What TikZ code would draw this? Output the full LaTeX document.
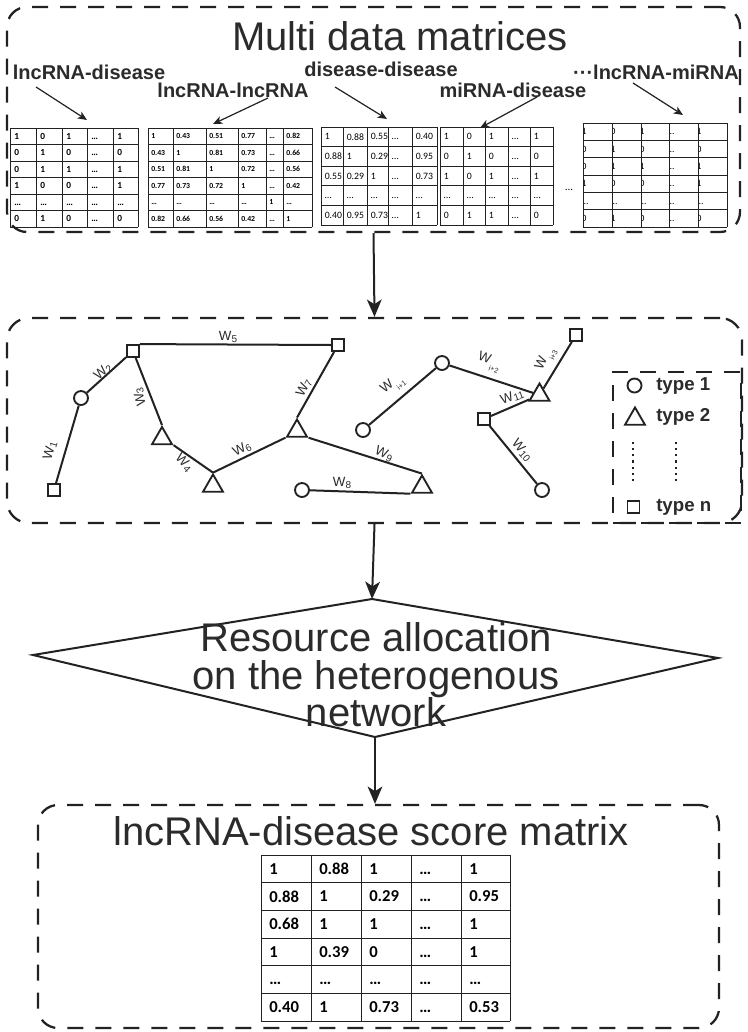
\documentclass[tikz,border=0pt]{standalone}
\usepackage{fontspec}
\setmainfont{Liberation Sans}
\newfontfamily\calf{Carlito}
\usetikzlibrary{arrows.meta,shapes.geometric,fit}
\definecolor{ink}{HTML}{222222}
\definecolor{txt}{HTML}{2B2B2B}
\tikzset{
 panel/.style={draw=ink, line width=1.7pt, dash pattern=on 12pt off 9pt, rounded corners=15pt, inner sep=0pt},
 legbox/.style={draw=ink, line width=1.5pt, dash pattern=on 12pt off 9pt, inner sep=0pt},
 bigarrow/.style={draw=ink, line width=1.5pt, -{Stealth[length=13pt,width=11pt,inset=3.5pt]}},
 larrow/.style={draw=ink, line width=0.9pt, -{Stealth[length=7pt,width=6pt,inset=2pt]}},
 edge/.style={draw=ink, line width=1.5pt},
 sqn/.style={draw=ink, rectangle, line width=1.4pt, minimum size=9pt, inner sep=0pt, fill=white},
 cirn/.style={draw=ink, circle, line width=1.4pt, minimum size=10.5pt, inner sep=0pt, fill=white},
 trin/.style={draw=ink, regular polygon, regular polygon sides=3, line width=1.4pt, minimum size=17.3pt, inner sep=0pt, fill=white},
 wlab/.style={text=txt, font=\fontsize{10}{11}\selectfont, inner sep=0pt},
 mlab/.style={text=txt, font=\bfseries\fontsize{15}{16}\selectfont, inner sep=0pt},
 gridln/.style={draw=ink, line width=0.6pt},
 cell/.style={inner sep=0pt, anchor=west, text=black},
 bigtxt/.style={text=txt, font=\fontsize{30}{28}\selectfont, inner sep=0pt, align=center},
 legtxt/.style={text=txt, font=\bfseries\fontsize{14}{15}\selectfont, inner sep=0pt, anchor=west},
}
\newcommand\Wsub[1]{W\kern0.2pt\raisebox{-0.12em}{\fontsize{7.5}{8}\selectfont #1}}
\newcommand\Wsubi[1]{W\kern0.8pt\raisebox{-0.5em}{\fontsize{5.5}{6}\selectfont #1}}
\def\matpad{4}
% #1 prefix, #2 xlist, #3 top, #4 row height, #5 font, #6 entries
\newcommand\mkmat[6]{%
 \foreach \row [count=\i] in {#6} {
   \foreach \e [count=\j] in \row {
     \pgfmathsetmacro\xc{{#2}[\j-1]+\matpad}
     \pgfmathsetmacro\yc{#3+(\i-0.5)*#4}
     \node[cell, font={#5}] (#1-\i-\j) at (\xc,\yc) {\vphantom{0}\e};
   }
 }%
}
% #1 xlist, #2 xl, #3 xr, #4 top, #5 rowh, #6 nrows
\newcommand\mkgrid[6]{%
  \foreach \xx in {#1} \draw[gridln] (\xx,#4) -- (\xx,{#4+#6*#5});
  \foreach \k in {0,...,#6} \draw[gridln] (#2,{#4+\k*#5}) -- (#3,{#4+\k*#5});
}
\begin{document}
\begin{tikzpicture}[x=0.75pt,y=-0.75pt]
\useasboundingbox (0,0) rectangle (748,1032);
\fill[white] (0,0) rectangle (748,1032);

% ---------- panel 1 ----------
\node[panel, fit={(7,7) (740,232)}] (p1) {};
\node[bigtxt] (t1) at (400,36) {Multi data matrices};
\node[mlab] (l1) at (89,72) {lncRNA-disease};
\node[mlab] (l2) at (233,90) {lncRNA-lncRNA};
\node[mlab] (l3) at (381,69) {disease-disease};
\node[mlab] (l4) at (513,90) {miRNA-disease};
\node[mlab] (l5) at (656,72) {···lncRNA-miRNA};
\coordinate (a1s) at (36,87);  \coordinate (a1e) at (87,120);
\coordinate (a2s) at (268,98); \coordinate (a2e) at (213,124);
\coordinate (a3s) at (335,87); \coordinate (a3e) at (387,119);
\coordinate (a4s) at (537,97); \coordinate (a4e) at (480,128);
\coordinate (a5s) at (633,83); \coordinate (a5e) at (683,115);
\draw[larrow] (a1s) -- (a1e);
\draw[larrow] (a2s) -- (a2e);
\draw[larrow] (a3s) -- (a3e);
\draw[larrow] (a4s) -- (a4e);
\draw[larrow] (a5s) -- (a5e);

% matrix 1
\def\matpad{4}
\mkmat{ma}{10,36,62,87,113,138}{128}{16.5}{\calf\bfseries\fontsize{7}{8}\selectfont}%
 {{1,0,1,…,1},{0,1,0,…,0},{0,1,1,…,1},{1,0,0,…,1},{…,…,…,…,…},{0,1,0,…,0}}
\mkgrid{10,36,62,87,113,138}{10}{138}{128}{16.5}{6}
% matrix 2
\def\matpad{3}
\mkmat{mb}{148,173,206,238,266,283,312}{128}{16.5}{\calf\bfseries\fontsize{5.8}{6}\selectfont}%
 {{1,0.43,0.51,0.77,…,0.82},{0.43,1,0.81,0.73,…,0.66},{0.51,0.81,1,0.72,…,0.56},{0.77,0.73,0.72,1,…,0.42},{…,…,…,…,1,…},{0.82,0.66,0.56,0.42,…,1}}
\mkgrid{148,173,206,238,266,283,312}{148}{312}{128}{16.5}{6}
% matrix 3
\def\matpad{3.5}
\mkmat{mc}{321,343,367,388,412,437}{127}{19.6}{\calf\fontsize{7.3}{8}\selectfont}%
 {{1,0.88,0.55,…,0.40},{0.88,1,0.29,…,0.95},{0.55,0.29,1,…,0.73},{…,…,…,…,…},{0.40,0.95,0.73,…,1}}
\mkgrid{321,343,367,388,412,437}{321}{437}{127}{19.6}{5}
% matrix 4
\mkmat{md}{440,463,485,508,530,553}{127}{19.6}{\calf\fontsize{7.3}{8}\selectfont}%
 {{1,0,1,…,1},{0,1,0,…,0},{1,0,1,…,1},{…,…,…,…,…},{0,1,1,…,0}}
\mkgrid{440,463,485,508,530,553}{440}{553}{127}{19.6}{5}
\node[font=\calf\fontsize{8}{8}\selectfont, inner sep=0pt] (gapdots) at (569,190) {…};
% matrix 5 (glyphs clipped at the left)
\def\matpad{-1.6}
\mkmat{me}{583,612,641,669,698,727}{123}{17.33}{\calf\fontsize{7.2}{8}\selectfont}%
 {{1,0,1,…,1},{0,1,0,…,0},{0,1,1,…,1},{1,0,0,…,1},{…,…,…,…,…},{0,1,0,…,0}}
\foreach \xx in {583,612,641,669,698} \fill[white] ({\xx-2.4},122) rectangle (\xx,228);
\mkgrid{583,612,641,669,698,727}{583}{727}{123}{17.33}{6}

% ---------- panel 2 ----------
\node[panel, rounded corners=16.5pt, fit={(7,318) (742,523)}] (p2) {};
\node[legbox, fit={(613,372) (741,523)}] (leg) {};
\draw[bigarrow] (p1.south) -- (p2.north);

\node[sqn]  (sq1) at (54,490) {};
\node[cirn] (c1)  at (81,398) {};
\node[sqn]  (sq2) at (133,351) {};
\node[sqn]  (sq3) at (338,345) {};
\node[trin] (tr1) at (162,438.5) {};
\node[trin] (tr2) at (213,486) {};
\node[trin] (tr3) at (297,431) {};
\node[cirn] (c2)  at (302,490) {};
\node[trin] (tr4) at (422,487) {};
\node[cirn] (c3)  at (363,430) {};
\node[cirn] (c4)  at (442,363) {};
\node[trin] (tr5) at (539.5,395) {};
\node[sqn]  (sq4) at (576,335) {};
\node[sqn]  (sq5) at (484,419) {};
\node[cirn] (c5)  at (542,490) {};

\draw[edge] (sq1) -- (c1);
\draw[edge] (c1) -- (sq2);
\draw[edge] (sq2) -- (tr1.corner 1);
\draw[edge] (sq2.north east) -- (sq3.west);
\draw[edge] (tr1.corner 3) -- (tr2.corner 1);
\draw[edge] (tr2.corner 1) -- (tr3.corner 2);
\draw[edge] (tr3.corner 1) -- (sq3);
\draw[edge] (tr3.corner 3) -- (tr4.corner 1);
\draw[edge] (c2) -- (tr4.corner 2);
\draw[edge] (c3) -- (c4);
\draw[edge] (c4) -- (tr5);
\draw[edge] (tr5) -- (sq4);
\draw[edge] (sq5) -- (tr5);
\draw[edge] (sq5) -- (c5);

\node[wlab, rotate=74]  (w1)  at (50,451) {\Wsub{1}};
\node[wlab, rotate=42]  (w2)  at (103,372) {\Wsub{2}};
\node[wlab, rotate=105] (w3)  at (140,397) {\Wsub{3}};
\node[wlab, rotate=-47] (w4)  at (184,463) {\Wsub{4}};
\node[wlab]             (w5)  at (228,337) {\Wsub{5}};
\node[wlab, rotate=28]  (w6)  at (242,449) {\Wsub{6}};
\node[wlab, rotate=62]  (w7)  at (304,388) {\Wsub{7}};
\node[wlab]             (w8)  at (342,483) {\Wsub{8}};
\node[wlab, rotate=-25] (w9)  at (384,454) {\Wsub{9}};
\node[wlab, rotate=38]  (wi1) at (393,385) {\Wsubi{i+1}};
\node[wlab, rotate=-20] (wi2) at (489,362) {\Wsubi{i+2}};
\node[wlab, rotate=65]  (wi3) at (546,359) {\Wsubi{i+3}};
\node[wlab, rotate=20]  (w11) at (512,397) {\Wsub{11}};
\node[wlab, rotate=-50] (w10) at (522,450) {\Wsub{10}};

% legend
\node[cirn] (lc) at (634.5,385.5) {};
\node[legtxt] (lt1) at (656,386) {type 1};
\node[trin] (lt) at (635,419) {};
\node[legtxt] (lt2) at (656,417) {type 2};
\draw[ink, line width=1.6pt, dash pattern=on 1.6pt off 3pt] (633,442) -- (633,484);
\draw[ink, line width=1.6pt, dash pattern=on 1.6pt off 3pt] (676,442) -- (676,484);
\node[sqn] (ls) at (633.5,507) {};
\node[legtxt] (lt3) at (656,507) {type n};

% ---------- diamond ----------
\coordinate (dT) at (372,599);
\coordinate (dL) at (33,655);
\coordinate (dR) at (718,658);
\coordinate (dB) at (375,737);
\draw[ink, line width=1.5pt, line join=miter] (dT) -- (dR) -- (dB) -- (dL) -- cycle;
\node[bigtxt] (dtext) at (376,675) {Resource allocation\\on the heterogenous\\network};
\draw[bigarrow] (p2.south) -- (dT);

% ---------- panel 3 ----------
\node[panel, fit={(38,805) (719,1028)}] (p3) {};
\draw[bigarrow] (dB) -- (dB |- p3.north);
\node[bigtxt] (t3) at (371,831) {lncRNA-disease score matrix};
\def\matpad{8}
\mkmat{mf}{261,311,361,411,461,510}{855}{27.67}{\calf\bfseries\fontsize{12.5}{13}\selectfont}%
 {{1,0.88,1,…,1},{0.88,1,0.29,…,0.95},{0.68,1,1,…,1},{1,0.39,0,…,1},{…,…,…,…,…},{0.40,1,0.73,…,0.53}}
\mkgrid{261,311,361,411,461,510}{261}{510}{855}{27.67}{6}
\end{tikzpicture}
\end{document}
